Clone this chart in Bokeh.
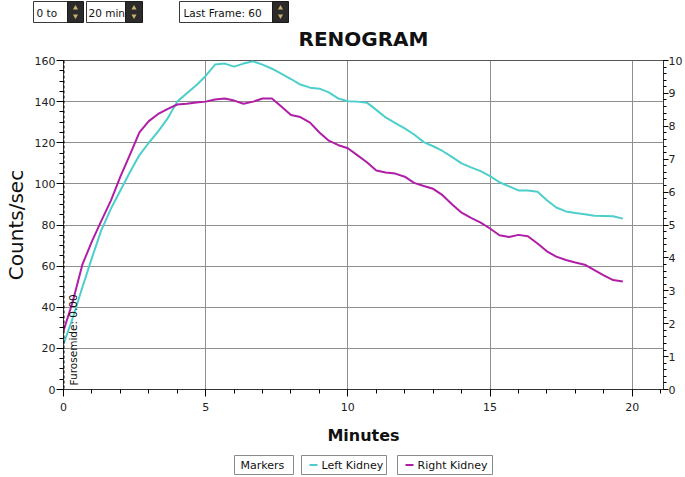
from bokeh.plotting import figure
from bokeh.layouts import column, row
from bokeh.models import (Range1d, LinearAxis, Label, Span, FixedTicker,
                          SingleIntervalTicker)
from bokeh.core.properties import value
from bokeh.embed import file_html
from bokeh.resources import INLINE

# ---- data ----
minutes = [0.0, 0.33, 0.67, 1.0, 1.33, 1.67, 2.0, 2.33, 2.67, 3.0,
           3.33, 3.67, 4.0, 4.33, 4.67, 5.0, 5.33, 5.67, 6.0, 6.33,
           6.67, 7.0, 7.33, 7.67, 8.0, 8.33, 8.67, 9.0, 9.33, 9.67,
           10.0, 10.33, 10.67, 11.0, 11.33, 11.67, 12.0, 12.33, 12.67, 13.0,
           13.33, 13.67, 14.0, 14.33, 14.67, 15.0, 15.33, 15.67, 16.0, 16.33,
           16.67, 17.0, 17.33, 17.67, 18.0, 18.33, 18.67, 19.0, 19.33, 19.67]
left_kidney = [22, 35, 50, 64, 77.5, 88, 96.8, 105.5, 114, 120,
               125.5, 132, 140, 144, 148, 152.5, 158, 158.5, 157, 158.5,
               159.6, 158, 156, 153.5, 151, 148.3, 146.8, 146.3, 144.5, 141.5,
               140.2, 140, 139.5, 136, 132.3, 129.6, 127, 124, 120.3, 118.3,
               116, 113, 110, 108, 106.2, 103.8, 100.8, 98.8, 96.8, 96.8,
               96.2, 92, 88.5, 86.6, 85.8, 85.2, 84.5, 84.4, 84.3, 83.1]
right_kidney = [28.5, 43, 61, 72, 82, 92, 103.5, 114, 125, 130.5,
                134, 136.5, 138.6, 139, 139.6, 140, 141, 141.5, 140.5, 139,
                140, 141.5, 141.5, 137.5, 133.5, 132.5, 129.8, 125, 121, 118.8,
                117.3, 114, 110.5, 106.5, 105.5, 105, 103.5, 100.5, 99, 97.6,
                94.5, 90, 86, 83.5, 81.2, 78.3, 75, 74.2, 75.2, 74.5,
                71, 67.2, 64.6, 63, 61.8, 60.7, 58, 55.5, 53.2, 52.5]
furosemide_time = 0.0
x_ticks = [0, 5, 10, 15, 20]
left_ticks = [0, 20, 40, 60, 80, 100, 120, 140]
series_names = ["Left Kidney", "Right Kidney"]
control_texts = ["0 to", "20 min", "Last Frame: 60"]
chart_title = "RENOGRAM"

CYAN = "#4CCFCB"
MAGENTA = "#B01DA6"
GRID = "#8f8f8f"
FONT = "DejaVu Sans"
W = 685


def blank(h):
    f = figure(width=W, height=h, output_backend="svg", toolbar_location=None,
               title=None,
               x_range=Range1d(0, W), y_range=Range1d(h, 0),
               x_axis_type=None, y_axis_type=None, min_border=0,
               min_border_left=0, min_border_right=0,
               min_border_top=0, min_border_bottom=0)
    f.outline_line_color = None
    f.xgrid.visible = False
    f.ygrid.visible = False
    return f


# ---------------- top strip: controls + title (page px) ----------------
top = blank(52)
top.quad(left=[33, 86, 179], right=[67, 125, 272], top=[1, 1, 1], bottom=[22, 22, 22],
         fill_color="#ffffff", line_color="#3a3a3a", line_width=1)
top.quad(left=[67, 125, 272], right=[83, 142, 288], top=[1, 1, 1], bottom=[22, 22, 22],
         fill_color="#2b2b2b", line_color="#1a1a1a", line_width=1)
top.scatter(x=[75, 133.5, 280], y=[7.5, 7.5, 7.5], marker="triangle", size=5,
            fill_color="#c9b36e", line_color=None)
top.scatter(x=[75, 133.5, 280], y=[15.5, 15.5, 15.5], marker="inverted_triangle", size=5,
            fill_color="#c9b36e", line_color=None)
top.text(x=[36, 88, 183], y=[12, 12, 12], text=control_texts,
         text_font=value(FONT), text_font_size="10.5px", text_color="#111111",
         text_baseline="middle", text_align="left")
top.text(x=[363], y=[38], text=[chart_title], text_font=value(FONT),
         text_font_size="20px", text_font_style="bold", text_color="#111111",
         text_baseline="middle", text_align="center")

# ---------------- main chart ----------------
p = figure(width=W, height=395, output_backend="svg", toolbar_location=None,
           title=None,
           x_range=Range1d(0, 21.1), y_range=Range1d(0, 160),
           min_border_left=63, min_border_right=20, min_border_top=8,
           min_border_bottom=55)
p.outline_line_color = "#555555"

xa = p.xaxis[0]
xa.ticker = SingleIntervalTicker(interval=5, num_minor_ticks=5)
xa.axis_label = "Minutes"
xa.axis_label_text_font = FONT
xa.axis_label_text_font_size = "16px"
xa.axis_label_text_font_style = "bold"
xa.axis_label_text_color = "#111111"
xa.axis_label_standoff = 12
xa.major_label_text_font = FONT
xa.major_label_text_font_size = "11px"
xa.major_label_text_color = "#222222"
xa.major_label_standoff = 6
xa.major_tick_out = 7
xa.major_tick_in = 0
xa.minor_tick_out = 4
xa.minor_tick_in = 0
xa.axis_line_color = "#333333"

ya = p.yaxis[0]
ya.ticker = SingleIntervalTicker(interval=20, num_minor_ticks=4)
ya.axis_label = "Counts/sec"
ya.axis_label_text_font = FONT
ya.axis_label_text_font_size = "20px"
ya.axis_label_text_font_style = "normal"
ya.axis_label_text_color = "#111111"
ya.axis_label_standoff = 4
ya.major_label_text_font = FONT
ya.major_label_text_font_size = "11px"
ya.major_label_text_color = "#222222"
ya.major_label_standoff = 1
ya.major_tick_out = 7
ya.major_tick_in = 0
ya.minor_tick_out = 4
ya.minor_tick_in = 0
ya.axis_line_color = "#333333"

p.extra_y_ranges = {"right": Range1d(0, 10)}
ra = LinearAxis(y_range_name="right",
                ticker=SingleIntervalTicker(interval=1, num_minor_ticks=5))
ra.major_label_text_font = FONT
ra.major_label_text_font_size = "11px"
ra.major_label_text_color = "#222222"
ra.major_label_standoff = 0
ra.major_tick_out = 5
ra.major_tick_in = 0
ra.minor_tick_out = 3
ra.minor_tick_in = 0
ra.axis_line_color = "#333333"
p.add_layout(ra, "right")

p.xgrid.ticker = FixedTicker(ticks=x_ticks)
p.ygrid.ticker = FixedTicker(ticks=left_ticks)
p.xgrid.grid_line_color = GRID
p.ygrid.grid_line_color = GRID

p.add_layout(Span(location=furosemide_time, dimension="height",
                  line_color="#000000", line_dash="3 2", line_width=2))
p.add_layout(Label(x=furosemide_time, y=2, text="Furosemide: 0.00", angle=1.5708,
                   x_offset=16, text_font=FONT, text_font_size="10.5px",
                   text_color="#111111"))

p.line(minutes, left_kidney, line_color=CYAN, line_width=2)
p.line(minutes, right_kidney, line_color=MAGENTA, line_width=2)

# ---------------- bottom legend strip (page px, strip starts at 447) ----------------
bot = blank(30)
bot.quad(left=[234, 301, 397], right=[293, 386, 492], top=[8, 8, 8], bottom=[27, 27, 27],
         fill_color="#ffffff", line_color="#8a8a8a", line_width=1)
bot.segment(x0=[309, 405], y0=[17.5, 17.5], x1=[317, 413], y1=[17.5, 17.5],
            line_color=[CYAN, MAGENTA], line_width=2)
bot.text(x=[240, 321, 417], y=[17.5, 17.5, 17.5], text=["Markers"] + series_names,
         text_font=value(FONT), text_font_size="11px", text_color="#111111",
         text_baseline="middle", text_align="left")

layout = column(row(top), p, row(bot), spacing=0)
open("out.html", "w").write(file_html(layout, INLINE))
